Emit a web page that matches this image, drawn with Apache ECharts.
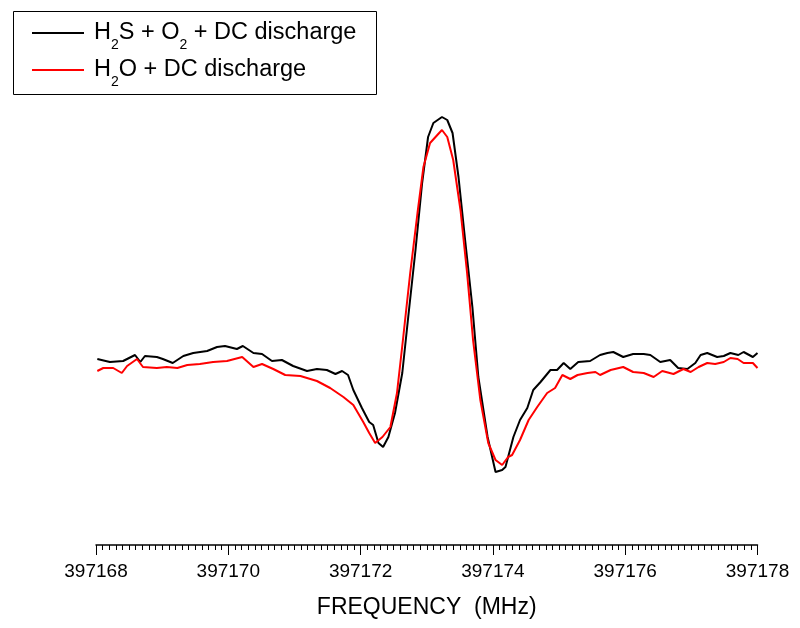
<!DOCTYPE html>
<html>
<head>
<meta charset="utf-8">
<script src="https://cdn.jsdelivr.net/npm/echarts@6/dist/echarts.min.js"></script>
<style>html,body{margin:0;padding:0;background:#fff}#c{width:800px;height:628px}</style>
</head>
<body>
<div id="c"></div>
<script>
const seriesNames = ['H2S + O2 + DC discharge', 'H2O + DC discharge'];
const xTicks = [397168, 397170, 397172, 397174, 397176, 397178];

const blackFreq = [397168.02,397168.21,397168.41,397168.59,397168.67,397168.74,397168.92,397169.01,397169.16,397169.32,397169.47,397169.68,397169.83,397169.95,397170.13,397170.22,397170.38,397170.51,397170.66,397170.81,397170.98,397171.19,397171.34,397171.49,397171.62,397171.72,397171.81,397171.89,397172.02,397172.13,397172.19,397172.27,397172.34,397172.42,397172.52,397172.63,397172.72,397172.83,397172.93,397173.02,397173.10,397173.23,397173.31,397173.39,397173.48,397173.58,397173.69,397173.78,397173.92,397174.04,397174.14,397174.19,397174.31,397174.41,397174.52,397174.61,397174.72,397174.87,397174.97,397175.07,397175.17,397175.29,397175.47,397175.62,397175.73,397175.82,397175.97,397176.12,397176.28,397176.38,397176.53,397176.68,397176.80,397176.94,397177.06,397177.14,397177.24,397177.39,397177.49,397177.59,397177.71,397177.79,397177.93,397178.00];
const blackInt = [186,183,184,190,183,189,188,186,182,189,192,194,198,199,196,199,192,191,184,185,179,174,176,175,171,174,170,155,137,123,120,102,98,108,132,172,228,295,362,408,422,428,425,412,368,305,238,168,108,73,75,78,108,125,137,155,163,175,175,182,176,183,184,190,192,193,188,191,191,190,183,185,177,176,182,190,192,188,189,192,190,193,188,192];

const redFreq = [397168.02,397168.11,397168.26,397168.39,397168.47,397168.62,397168.71,397168.92,397169.07,397169.23,397169.38,397169.57,397169.77,397169.98,397170.21,397170.38,397170.51,397170.68,397170.86,397171.09,397171.34,397171.54,397171.74,397171.89,397172.04,397172.13,397172.22,397172.33,397172.45,397172.55,397172.64,397172.75,397172.86,397172.95,397173.05,397173.16,397173.23,397173.31,397173.40,397173.51,397173.61,397173.70,397173.81,397173.93,397174.04,397174.14,397174.23,397174.29,397174.41,397174.54,397174.67,397174.82,397174.94,397175.05,397175.17,397175.28,397175.43,397175.55,397175.62,397175.78,397175.97,397176.12,397176.28,397176.43,397176.56,397176.73,397176.88,397176.99,397177.11,397177.24,397177.36,397177.49,397177.59,397177.70,397177.79,397177.93,397178.00];
const redInt = [174,177,177,172,179,186,178,177,178,177,180,181,183,184,188,178,181,176,170,169,164,157,148,140,123,112,102,108,118,152,205,272,332,378,402,410,415,408,385,335,272,205,145,102,85,80,88,90,105,125,138,152,157,170,166,170,172,173,170,175,178,173,172,168,174,171,176,173,178,182,181,183,187,186,182,182,177];

function zip(xs, ys) { return xs.map((x, i) => [x, ys[i]]); }

const chart = echarts.init(document.getElementById('c'), null, {renderer: 'canvas'});
const FONT = 'Liberation Sans, Arial, sans-serif';
chart.setOption({
  animation: false,
  backgroundColor: '#ffffff',
  grid: {left: 96, right: 42.5, top: 100, bottom: 83, containLabel: false},
  xAxis: {
    type: 'value',
    min: xTicks[0],
    max: xTicks[xTicks.length - 1],
    interval: 2,
    name: 'FREQUENCY  (MHz)',
    nameLocation: 'middle',
    nameGap: 51,
    nameTextStyle: {fontSize: 23, color: '#000', fontFamily: FONT},
    axisLine: {show: true, onZero: false, lineStyle: {color: '#000', width: 1.5}},
    axisTick: {show: true, inside: false, length: 10, lineStyle: {color: '#000', width: 1}},
    minorTick: {show: true, splitNumber: 20, length: 5, lineStyle: {color: '#000', width: 1}},
    axisLabel: {fontSize: 19, color: '#000', margin: 17, fontFamily: FONT,
      formatter: v => String(Math.round(v))},
    splitLine: {show: false}
  },
  yAxis: {
    type: 'value', min: 0, max: 445, show: false
  },
  graphic: [{
    type: 'rect', z: 100, silent: true,
    shape: {x: 13.5, y: 11.5, width: 363, height: 83},
    style: {fill: 'none', stroke: '#000', lineWidth: 1}
  }],
  legend: {
    orient: 'vertical',
    left: 32, top: 13.5,
    padding: 0,
    itemGap: -2,
    icon: 'rect',
    itemWidth: 52, itemHeight: 2,
    data: seriesNames,
    formatter: function (name) {
      if (name === seriesNames[0]) return '{m|H}{s|2}{m|S + O}{s|2}{m| + DC discharge}';
      return '{m|H}{s|2}{m|O + DC discharge}';
    },
    textStyle: {
      padding: [0, 0, 0, 5],
      rich: {
        m: {fontSize: 23.5, lineHeight: 37, color: '#000', fontFamily: FONT},
        s: {fontSize: 14, lineHeight: 14, padding: [25, 0, 0, 0], color: '#000', fontFamily: FONT}
      }
    }
  },
  series: [
    {name: seriesNames[0], type: 'line', data: zip(blackFreq, blackInt), symbol: 'none', smooth: false,
     lineStyle: {color: '#000000', width: 2}, itemStyle: {color: '#000000'}, z: 3},
    {name: seriesNames[1], type: 'line', data: zip(redFreq, redInt), symbol: 'none', smooth: false,
     lineStyle: {color: '#ff0000', width: 2}, itemStyle: {color: '#ff0000'}, z: 4}
  ]
});
</script>
</body>
</html>
